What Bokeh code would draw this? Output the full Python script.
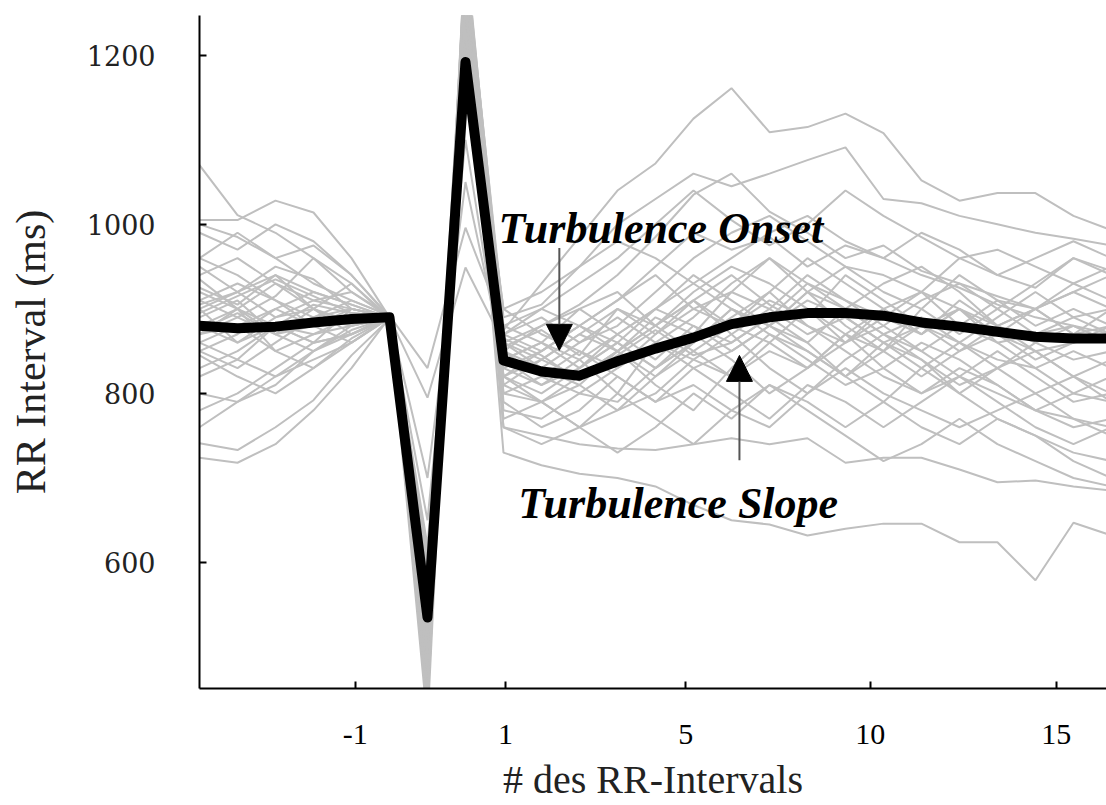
from bokeh.plotting import figure
from bokeh.models import Range1d, FixedTicker, Label, Arrow, NormalHead
from bokeh.embed import file_html
from bokeh.resources import INLINE

# beat index: -2 = last sinus beat before the VPC, -1 = coupling interval,
# 0 = compensatory pause, 1.. = post-extrasystolic intervals
BEAT_INDEX = list(range(-7, 18))

MEAN_RR = [880, 877, 879, 884, 888, 890, 535, 1192, 839, 826, 821, 838, 853, 866,
           882, 890, 895, 895, 892, 884, 879, 873, 867, 865, 865]

RR_01 = [905, 920, 950, 935, 900, 890, 560, 1290, 875, 930, 985, 1040, 1072, 1125, 1161, 1109, 1115, 1131, 1108, 1052, 1028, 1037, 1037, 1010, 993]
RR_02 = [870, 890, 915, 960, 930, 888, 520, 1310, 890, 905, 950, 1000, 1030, 1060, 1045, 1060, 1076, 1091, 1030, 1025, 1010, 1000, 990, 983, 975]
RR_03 = [1070, 1011, 990, 960, 920, 892, 600, 1230, 860, 880, 905, 940, 985, 1035, 1060, 1015, 990, 960, 975, 945, 930, 915, 900, 920, 900]
RR_04 = [1005, 1005, 1028, 1014, 960, 890, 480, 1270, 820, 850, 880, 910, 950, 990, 970, 985, 950, 975, 960, 940, 925, 905, 890, 880, 870]
RR_05 = [741, 733, 760, 792, 845, 888, 455, 1290, 780, 770, 800, 790, 830, 860, 900, 880, 920, 900, 870, 890, 860, 840, 830, 800, 790]
RR_06 = [724, 718, 740, 780, 830, 890, 430, 1320, 800, 790, 760, 780, 800, 840, 820, 850, 830, 860, 880, 850, 820, 800, 780, 770, 760]
RR_07 = [780, 800, 830, 860, 870, 892, 830, 996, 880, 860, 900, 920, 880, 910, 940, 905, 880, 860, 900, 920, 880, 860, 870, 880, 860]
RR_08 = [860, 880, 850, 870, 880, 890, 795, 949, 860, 840, 870, 850, 890, 870, 920, 900, 870, 890, 860, 880, 900, 870, 850, 860, 870]
RR_09 = [900, 860, 880, 905, 895, 890, 510, 1240, 850, 820, 800, 830, 870, 900, 880, 920, 960, 930, 900, 870, 910, 880, 860, 840, 850]
RR_10 = [890, 910, 870, 890, 900, 890, 540, 1200, 830, 810, 840, 800, 860, 890, 930, 960, 920, 880, 850, 900, 940, 910, 880, 900, 880]
RR_11 = [935, 900, 880, 860, 900, 891, 470, 1300, 810, 790, 820, 850, 810, 780, 830, 870, 850, 820, 790, 830, 800, 770, 750, 730, 720]
RR_12 = [850, 870, 900, 880, 860, 889, 590, 1180, 840, 860, 830, 870, 900, 930, 900, 880, 860, 900, 930, 950, 920, 880, 900, 920, 940]
RR_13 = [960, 990, 960, 930, 910, 892, 500, 1260, 870, 890, 860, 880, 920, 960, 990, 1010, 980, 950, 940, 920, 960, 970, 950, 930, 950]
RR_14 = [820, 840, 820, 850, 870, 890, 440, 1330, 790, 760, 780, 820, 790, 810, 780, 760, 800, 830, 800, 780, 760, 780, 800, 770, 750]
RR_15 = [910, 930, 910, 880, 890, 890, 620, 1160, 850, 880, 900, 870, 840, 880, 860, 890, 930, 900, 870, 850, 880, 910, 900, 870, 880]
RR_16 = [880, 860, 890, 910, 920, 890, 530, 1220, 900, 870, 850, 830, 860, 840, 870, 830, 800, 840, 870, 840, 810, 830, 860, 880, 860]
RR_17 = [990, 970, 1000, 980, 940, 891, 410, 1330, 860, 830, 810, 850, 880, 850, 820, 860, 900, 870, 830, 800, 820, 850, 820, 790, 800]
RR_18 = [870, 900, 930, 900, 880, 889, 560, 1190, 810, 840, 870, 900, 880, 920, 950, 930, 900, 860, 890, 920, 900, 870, 840, 860, 880]
RR_19 = [920, 900, 850, 830, 860, 890, 650, 1100, 820, 790, 810, 780, 820, 850, 880, 860, 830, 870, 850, 820, 850, 880, 850, 820, 840]
RR_20 = [800, 790, 820, 840, 860, 890, 500, 1280, 770, 790, 760, 800, 770, 740, 780, 810, 790, 760, 790, 760, 740, 770, 750, 720, 700]
RR_21 = [850, 830, 860, 890, 910, 892, 460, 1320, 880, 900, 880, 910, 940, 900, 920, 960, 930, 910, 880, 910, 930, 900, 870, 890, 900]
RR_22 = [950, 920, 890, 900, 930, 890, 580, 1210, 830, 850, 880, 860, 830, 860, 900, 870, 840, 810, 830, 860, 840, 810, 780, 800, 820]
RR_23 = [900, 920, 940, 900, 870, 890, 490, 1250, 760, 740, 760, 730, 760, 800, 770, 810, 780, 750, 720, 740, 770, 740, 720, 700, 690]
RR_24 = [860, 840, 880, 860, 870, 889, 520, 1270, 730, 715, 705, 700, 690, 668, 650, 645, 632, 640, 646, 646, 624, 624, 579, 647, 632]
RR_25 = [880, 900, 870, 850, 880, 891, 470, 1300, 760, 750, 740, 735, 733, 740, 747, 740, 747, 718, 724, 724, 710, 695, 697, 690, 685]
RR_26 = [940, 960, 930, 910, 900, 890, 550, 1240, 900, 920, 950, 980, 960, 930, 960, 990, 1010, 980, 960, 990, 970, 940, 960, 980, 960]
RR_27 = [830, 850, 880, 870, 890, 890, 600, 1170, 850, 830, 860, 890, 860, 830, 850, 880, 850, 820, 850, 880, 860, 830, 800, 820, 800]
RR_28 = [910, 890, 870, 880, 900, 890, 700, 1050, 840, 860, 840, 870, 900, 880, 850, 880, 910, 890, 860, 830, 860, 890, 920, 890, 870]
RR_29 = [870, 880, 900, 920, 905, 890, 430, 1300, 870, 850, 880, 850, 820, 860, 890, 920, 880, 850, 820, 800, 830, 810, 780, 760, 770]
RR_30 = [960, 940, 910, 890, 880, 890, 510, 1230, 820, 800, 830, 860, 900, 940, 910, 880, 920, 950, 920, 900, 870, 900, 930, 960, 940]
RR_31 = [1000, 985, 960, 975, 940, 890, 570, 1250, 870, 900, 930, 960, 1000, 1040, 1005, 975, 1000, 1040, 1010, 985, 960, 940, 925, 960, 945]
RR_32 = [845, 820, 800, 830, 865, 890, 490, 1280, 800, 820, 850, 820, 790, 830, 800, 770, 810, 790, 760, 790, 820, 790, 760, 740, 760]
RR_33 = [895, 915, 935, 915, 895, 891, 545, 1230, 855, 875, 845, 900, 870, 910, 870, 900, 940, 910, 890, 870, 900, 860, 830, 850, 830]
RR_34 = [925, 905, 940, 920, 905, 889, 445, 1310, 840, 810, 830, 860, 830, 870, 840, 800, 830, 870, 900, 870, 900, 880, 900, 930, 910]
RR_35 = [875, 895, 870, 900, 885, 890, 610, 1160, 865, 845, 815, 845, 875, 845, 860, 890, 860, 820, 860, 840, 800, 830, 850, 820, 790]
RR_36 = [760, 790, 810, 850, 875, 890, 520, 1260, 820, 840, 820, 850, 880, 910, 880, 910, 890, 940, 910, 880, 850, 870, 900, 870, 900]

GRAY_TRACES = (RR_01, RR_02, RR_03, RR_04, RR_05, RR_06, RR_07, RR_08, RR_09, RR_10,
               RR_11, RR_12, RR_13, RR_14, RR_15, RR_16, RR_17, RR_18, RR_19, RR_20,
               RR_21, RR_22, RR_23, RR_24, RR_25, RR_26, RR_27, RR_28, RR_29, RR_30,
               RR_31, RR_32, RR_33, RR_34, RR_35, RR_36)

X_TICKS = [-2.9, 1.05, 5.8, 10.65, 15.55]
X_TICK_LABELS = ["-1", "1", "5", "10", "15"]
Y_TICKS = [600, 800, 1000, 1200]

ONSET_ARROW = dict(x=2.47, y_start=972, y_end=851)
SLOPE_ARROW = dict(x=7.21, y_start=721, y_end=845)
ONSET_TEXT = dict(x=0.87, y=995)
SLOPE_TEXT = dict(x=1.39, y=670)

p = figure(width=1106, height=805, output_backend="svg", toolbar_location=None,
           x_range=Range1d(-7.0, 16.87), y_range=Range1d(451, 1247),
           min_border_left=199, min_border_right=0, min_border_top=15,
           min_border_bottom=117)
p.outline_line_color = None
p.grid.visible = False
p.background_fill_color = "white"
p.border_fill_color = "white"

for tr in GRAY_TRACES:
    p.line(BEAT_INDEX, tr, line_color="#bfbfbf", line_width=2)

p.line(BEAT_INDEX, MEAN_RR, line_color="black", line_width=10, line_join="round")

# arrows
p.add_layout(Arrow(end=NormalHead(size=26, fill_color="black", line_color="black"),
                   x_start=ONSET_ARROW["x"], y_start=ONSET_ARROW["y_start"],
                   x_end=ONSET_ARROW["x"], y_end=ONSET_ARROW["y_end"],
                   line_color="#555555", line_width=2))
p.add_layout(Arrow(end=NormalHead(size=26, fill_color="black", line_color="black"),
                   x_start=SLOPE_ARROW["x"], y_start=SLOPE_ARROW["y_start"],
                   x_end=SLOPE_ARROW["x"], y_end=SLOPE_ARROW["y_end"],
                   line_color="#555555", line_width=2))

for txt, pos in (("Turbulence Onset", ONSET_TEXT), ("Turbulence Slope", SLOPE_TEXT)):
    p.add_layout(Label(x=pos["x"], y=pos["y"], text=txt, text_font="Liberation Serif",
                       text_font_style="bold italic", text_font_size="44px",
                       text_color="black", text_baseline="alphabetic"))

# x axis
xa = p.xaxis[0]
xa.ticker = FixedTicker(ticks=X_TICKS)
xa.major_label_overrides = {t: l for t, l in zip(X_TICKS, X_TICK_LABELS)}
xa.minor_tick_line_color = None
xa.major_tick_in = 7
xa.major_tick_out = 0
xa.major_label_standoff = 36
xa.major_label_text_font = "Liberation Serif"
xa.major_label_text_font_size = "30px"
xa.major_label_text_color = "black"
xa.axis_line_color = "black"
xa.axis_line_width = 2
xa.major_tick_line_color = "black"
xa.major_tick_line_width = 2
xa.axis_label = "# des RR-Intervals"
xa.axis_label_text_font = "Liberation Serif"
xa.axis_label_text_font_size = "40px"
xa.axis_label_text_font_style = "normal"
xa.axis_label_text_color = "#222222"
xa.axis_label_standoff = 10

# y axis
ya = p.yaxis[0]
ya.ticker = FixedTicker(ticks=Y_TICKS)
ya.minor_tick_line_color = None
ya.major_tick_in = 7
ya.major_tick_out = 0
ya.major_label_standoff = 44
ya.major_label_text_font = "DejaVu Serif"
ya.major_label_text_font_size = "27px"
ya.major_label_text_color = "#222222"
ya.axis_line_color = "black"
ya.axis_line_width = 2
ya.major_tick_line_color = "black"
ya.major_tick_line_width = 2
ya.axis_label = "RR Interval (ms)"
ya.axis_label_text_font = "Liberation Serif"
ya.axis_label_text_font_size = "42px"
ya.axis_label_text_font_style = "normal"
ya.axis_label_text_color = "#222222"
ya.axis_label_standoff = 30

open("out.html", "w").write(file_html(p, INLINE))
